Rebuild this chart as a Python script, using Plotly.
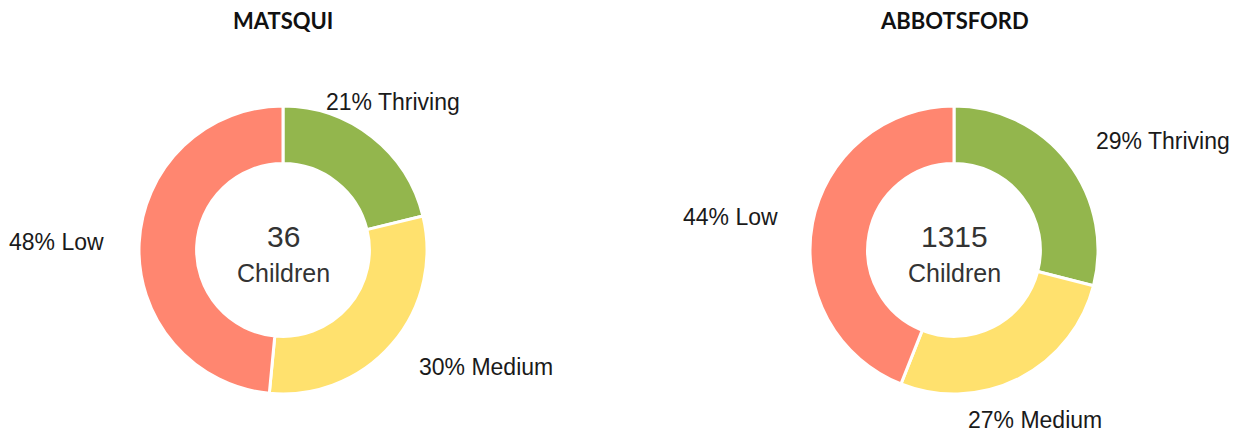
"""Children development donuts: Matsqui vs Abbotsford."""
import numpy as np
import plotly.graph_objects as go

W, H = 1237, 434

categories = ["Thriving", "Medium", "Low"]
colors = ["#93b64d", "#ffe16e", "#ff8670"]

regions = ["MATSQUI", "ABBOTSFORD"]
children = [36, 1315]
matsqui_pct = [21, 30, 48]
abbotsford_pct = [29, 27, 44]

# layout (pixels)
centers_x = [283, 954]
center_y = 250
radius = 144
label_r = 178
title_y = 20


def px(x, y):
    return x / W, 1 - y / H


fig = go.Figure()
annotations = []

for name, n, pct, cx in zip(regions, children, [matsqui_pct, abbotsford_pct], centers_x):
    fig.add_trace(go.Pie(
        labels=categories,
        values=pct,
        hole=0.6,
        sort=False,
        direction="clockwise",
        rotation=0,
        textinfo="none",
        hoverinfo="label+percent",
        marker=dict(colors=colors, line=dict(color="white", width=3)),
        domain=dict(
            x=[(cx - radius) / W, (cx + radius) / W],
            y=[1 - (center_y + radius) / H, 1 - (center_y - radius) / H],
        ),
        showlegend=False,
    ))

    tx, ty = px(cx, title_y)
    annotations.append(dict(
        x=tx, y=ty, text=f"<b>{name}</b>", showarrow=False,
        xanchor="center", yanchor="middle",
        font=dict(family="Lato", size=22, color="#111"),
    ))
    x0, y0 = px(cx, 236)
    annotations.append(dict(
        x=x0, y=y0, text=str(n), showarrow=False,
        xanchor="center", yanchor="middle",
        font=dict(family="Liberation Sans", size=30, color="#333"),
    ))
    x1, y1 = px(cx, 273)
    annotations.append(dict(
        x=x1, y=y1, text="Children", showarrow=False,
        xanchor="center", yanchor="middle",
        font=dict(family="Liberation Sans", size=25, color="#333"),
    ))

    # outside labels at slice mid-angles
    vals = np.array(pct, dtype=float)
    cum = np.cumsum(vals) - vals / 2
    mids = cum / vals.sum() * 360
    for cat, p, th in zip(categories, pct, mids):
        rad = np.radians(th)
        lx = cx + label_r * np.sin(rad)
        ly = center_y - label_r * np.cos(rad)
        if th < 45 or th >= 315:
            xa, ya, dy = "center", "bottom", -6
        elif th < 135:
            xa, ya, dy = "left", "middle", 0
        elif th < 225:
            xa, ya, dy = "center", "top", 3
        else:
            xa, ya, dy = "right", "middle", 0
        ax, ay = px(lx, ly)
        annotations.append(dict(
            x=ax, y=ay, text=f"{p}% {cat}", showarrow=False,
            xanchor=xa, yanchor=ya, borderpad=0, yshift=dy,
            font=dict(family="Liberation Sans", size=23, color="#1a1a1a"),
        ))

fig.update_layout(
    width=W, height=H,
    margin=dict(l=0, r=0, t=0, b=0),
    paper_bgcolor="white",
    plot_bgcolor="white",
    annotations=annotations,
)

fig.write_html(
    "out.html",
    config={"displayModeBar": False},
    post_script="document.body.style.margin='0';",
)
